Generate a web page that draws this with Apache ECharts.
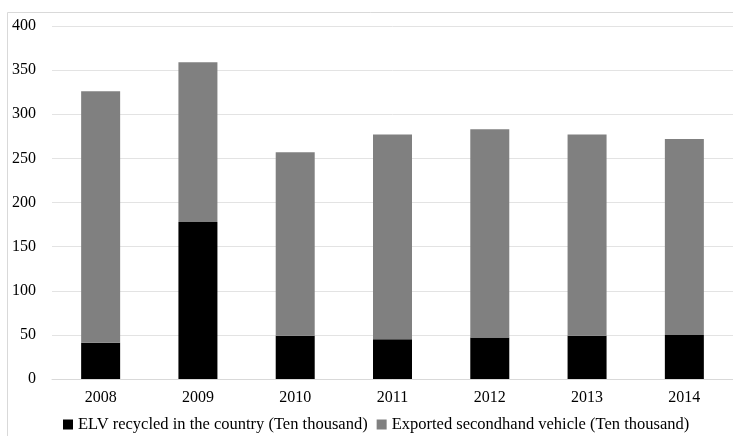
<!DOCTYPE html>
<html>
<head>
<meta charset="utf-8">
<script src="https://cdn.jsdelivr.net/npm/echarts@6/dist/echarts.min.js"></script>
<style>html,body{margin:0;padding:0;background:#fff;}#chart{width:733px;height:436px;}</style>
</head>
<body>
<div id="chart"></div>
<script>
var categories = ['2008', '2009', '2010', '2011', '2012', '2013', '2014'];
var elvRecycled = [41, 178, 49, 45, 47, 49, 50];
var exportedSecondhand = [285, 181, 208, 232, 236, 228, 222];
var yTicks = [0, 50, 100, 150, 200, 250, 300, 350, 400];
var seriesNames = ['ELV recycled in the country (Ten thousand)', 'Exported secondhand vehicle (Ten thousand)'];

var font = 'Liberation Serif, Times New Roman, serif';
var chart = echarts.init(document.getElementById('chart'), null, {renderer: 'canvas'});
chart.setOption({
  animation: false,
  backgroundColor: '#fff',
  graphic: [{
    type: 'rect', silent: true, z: -1,
    shape: {x: 7.5, y: 12.5, width: 800, height: 500},
    style: {fill: 'none', stroke: '#d9d9d9', lineWidth: 1}
  }],
  grid: {left: 52, top: 26, width: 683, height: 353, containLabel: false},
  legend: {
    left: 58, top: 411,
    icon: 'rect', itemWidth: 10, itemHeight: 10, itemGap: 9,
    textStyle: {fontFamily: font, fontSize: 16.5, color: '#000'},
    data: seriesNames
  },
  xAxis: {
    type: 'category', data: categories,
    axisLine: {show: true, lineStyle: {color: '#d9d9d9', width: 1}},
    axisTick: {show: false},
    axisLabel: {fontFamily: font, fontSize: 16, color: '#000', margin: 11}
  },
  yAxis: {
    type: 'value', min: yTicks[0], max: yTicks[yTicks.length - 1], interval: 50,
    axisLine: {show: false}, axisTick: {show: false},
    splitLine: {lineStyle: {color: '#e3e3e3', width: 1}},
    axisLabel: {fontFamily: font, fontSize: 16, color: '#000', margin: 16}
  },
  series: [
    {name: seriesNames[0], type: 'bar', stack: 'total', data: elvRecycled, barWidth: 39,
     itemStyle: {color: '#000000'}},
    {name: seriesNames[1], type: 'bar', stack: 'total', data: exportedSecondhand, barWidth: 39,
     itemStyle: {color: '#808080'}}
  ]
});
</script>
</body>
</html>
